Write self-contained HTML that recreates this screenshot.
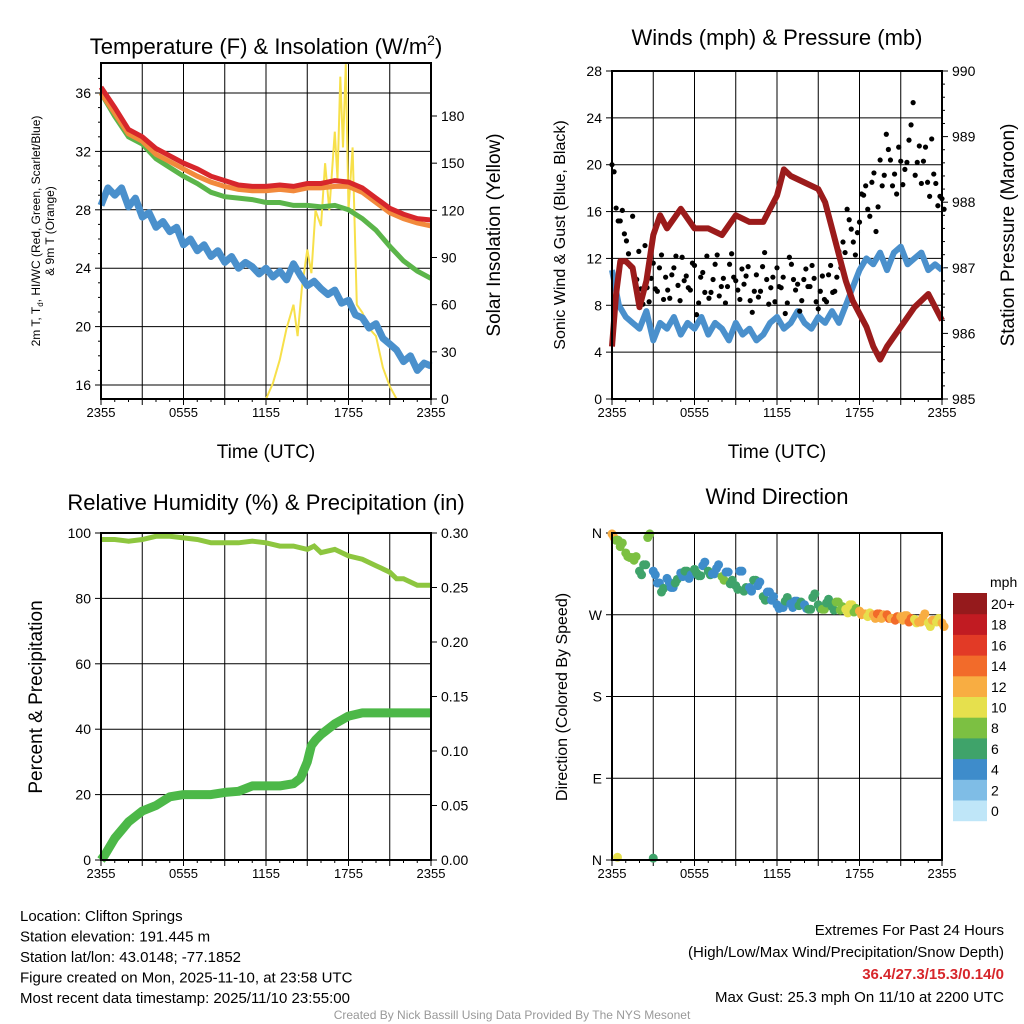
<!DOCTYPE html>
<html><head><meta charset="utf-8"><style>
html,body{margin:0;padding:0;background:#fff}
svg{display:block;font-family:"Liberation Sans",sans-serif}
</style></head><body>
<svg id="c" width="1024" height="1024" viewBox="0 0 1024 1024" xmlns="http://www.w3.org/2000/svg"></svg>
<script>
// ---------- DATA ----------
const xTickLabels=["2355","0555","1155","1755","2355"];
const hours=[0,1,2,3,4,5,6,7,8,9,10,11,12,13,14,15,16,17,18,19,20,21,22,23,24];
const tempRed=[36.4,35,33.5,33,32.2,31.7,31.2,30.8,30.3,30,29.7,29.6,29.6,29.7,29.6,29.8,29.8,30,29.9,29.5,28.8,28.1,27.7,27.4,27.3];
const tempOrange=[36,34.6,33.2,32.7,31.8,31.3,30.8,30.3,29.9,29.6,29.4,29.3,29.3,29.4,29.3,29.5,29.5,29.6,29.6,29.2,28.5,27.8,27.4,27.1,26.9];
const tempGreen=[36,34.4,33,32.5,31.5,30.9,30.3,29.8,29.2,28.9,28.8,28.7,28.5,28.5,28.3,28.3,28.2,28.3,28,27.4,26.6,25.5,24.5,23.8,23.3];
const dewHours=[0,0.5,1,1.5,2,2.5,3,3.5,4,4.5,5,5.5,6,6.5,7,7.5,8,8.5,9,9.5,10,10.5,11,11.5,12,12.5,13,13.5,14,14.5,15,15.5,16,16.5,17,17.5,18,18.5,19,19.5,20,20.5,21,21.5,22,22.5,23,23.5,24];
const dewBlue=[28.3,29.5,29,29.5,28.2,28.8,27.5,27.8,26.8,27.2,26.5,26.8,25.6,26,25.2,25.6,24.8,25.2,24.4,24.8,24,24.4,24.1,23.6,24,23.4,23.8,23.2,24.3,23.5,22.8,23.1,22.6,22.2,22.5,21.6,21.8,20.8,20.6,19.9,20.2,19.2,18.8,18.4,17.6,18,17,17.5,17.3];
const solarHours=[0,12,12.5,13,13.5,14,14.3,14.6,15,15.3,15.6,16,16.3,16.6,17,17.2,17.4,17.6,17.8,18,18.3,18.6,19,19.5,20,20.5,21,21.5,24];
const solarVals=[0,0,10,25,45,60,40,70,95,80,120,110,150,120,170,140,205,160,213,120,160,60,55,45,40,20,8,0,0];
const tTicks=[16,20,24,28,32,36];
const sTicks=[0,30,60,90,120,150,180];
const windHours=[0,0.5,1,1.5,2,2.5,3,3.5,4,4.5,5,5.5,6,6.5,7,7.5,8,8.5,9,9.5,10,10.5,11,11.5,12,12.5,13,13.5,14,14.5,15,15.5,16,16.5,17,17.5,18,18.5,19,19.5,20,20.5,21,21.5,22,22.5,23,23.5,24];
const windBlue=[11,8,7,6.5,6,7.5,5,6.5,6,7,5.5,6.5,6,7,5.5,6.5,6,5,6.5,5.5,6,5,5.5,6.5,7,6,6.5,7.5,6.5,6,7,6.5,7.5,6.5,8,9.5,11,12,11.5,12.5,11,12.5,13,11.5,12,12.5,11,11.5,11];
const presHours=[0,0.3,0.6,1,1.5,2,2.5,3,3.5,4,5,6,7,8,9,10,11,12,12.5,13,14,15,15.5,16,16.5,17,17.5,18,18.5,19,19.5,20,21,22,23,24];
const presVals=[985.8,986.6,987.1,987.1,987.0,986.4,986.8,987.5,987.8,987.6,987.9,987.6,987.6,987.5,987.8,987.7,987.7,988.1,988.5,988.4,988.3,988.2,988.0,987.6,987.2,986.8,986.5,986.3,986.1,985.8,985.6,985.8,986.1,986.4,986.6,986.2];
const gustHours=[0,0.3,0.6,0.9,1.2,1.5,1.8,2.1,2.4,2.7,3,3.3,3.6,3.9,4.2,4.5,4.8,5.1,5.4,5.7,6,6.3,6.6,6.9,7.2,7.5,7.8,8.1,8.4,8.7,9,9.3,9.6,9.9,10.2,10.5,10.8,11.1,11.4,11.7,12,12.3,12.6,12.9,13.2,13.5,13.8,14.1,14.4,14.7,15,15.3,15.6,15.9,16.2,16.5,16.8,17.1,17.4,17.7,18,18.3,18.6,18.9,19.2,19.5,19.8,20.1,20.4,20.7,21,21.3,21.6,21.9,22.2,22.5,22.8,23.1,23.4,23.7,24];
const gustVals=[20,16.3,15.2,14.1,12.4,15.6,10.2,9.4,13.1,8.3,11.6,9.2,12.3,10.4,8.6,11.2,9.7,12.1,10.5,9.3,11.4,8.2,10.8,12.2,9.1,11.5,8.8,10.3,9.6,12.4,10.1,8.5,9.8,11.3,7.4,10.6,9.2,12.5,8.1,10.4,11.2,9.5,7.3,12.1,10.2,9.8,8.4,11.1,9.6,10.3,7.7,10.5,8.3,11.4,9.2,12.6,13.4,16.2,14.5,12.3,15.1,17.4,16.2,18.5,14.3,20.4,19.1,21.3,18.2,17.5,20.3,19.6,22.1,25.3,20.2,18.4,21.5,17.3,19.2,16.5,17.1];
const gustVals2=[19.4,15.2,16.1,13.5,11.3,10.4,12.6,8.1,9.5,10.3,9.4,11.2,8.5,9.3,10.6,12.2,8.4,10.1,9.5,11.6,7.2,10.4,9.1,8.6,10.2,12.3,9.6,8.2,11.5,10.4,9.3,11.1,10.5,8.4,9.2,8.7,11.3,10.2,9.5,8.3,9.6,10.4,8.2,11.5,9.3,7.5,10.2,9.6,11.4,8.3,9.2,8.5,10.6,9.1,10.4,11.2,12.5,15.3,13.4,14.2,17.5,18.2,15.6,19.3,16.4,18.2,22.6,20.4,19.2,21.5,18.3,20.2,23.4,19.1,21.6,20.3,18.5,22.2,18.4,17.3,16.2];
const wTicks=[0,4,8,12,16,20,24,28];
const pTicks=[985,986,987,988,989,990];
const rhHours=[0,1,2,3,4,5,6,7,8,9,10,11,12,13,14,15,15.5,16,17,18,19,20,21,21.5,22,23,24];
const rhVals=[98,98,97.5,98,99,99,98.5,98,97,97,97,97.5,97,96,96,95,96,94,95,93,92,90,88,86,86,84,84];
const precipHours=[0,0.3,1,2,3,4,5,6,7,8,9,10,11,12,13,14,14.5,15,15.3,15.6,16,17,18,19,20,21,22,23,24];
const precipVals=[0,0.005,0.02,0.035,0.045,0.05,0.058,0.06,0.06,0.06,0.062,0.063,0.068,0.068,0.068,0.07,0.075,0.09,0.105,0.11,0.115,0.125,0.132,0.135,0.135,0.135,0.135,0.135,0.135];
const rhTicks=[0,20,40,60,80,100];
const prTicks=["0.00","0.05","0.10","0.15","0.20","0.25","0.30"];
const dirHours=[0,0.3,0.6,1,1.3,1.6,2,2.3,2.6,3,3.3,3.6,4,4.3,4.6,5,5.3,5.6,6,6.3,6.6,7,7.3,7.6,8,8.3,8.6,9,9.3,9.6,10,10.3,10.6,11,11.3,11.6,12,12.3,12.6,13,13.3,13.6,14,14.3,14.6,15,15.3,15.6,16,16.3,16.6,17,17.3,17.6,18,18.3,18.6,19,19.3,19.6,20,20.3,20.6,21,21.3,21.6,22,22.3,22.6,23,23.3,23.6,24,0.4,3.0];
const dirVals=[359,352,345,338,333,330,318,325,355,318,305,295,310,300,305,316,318,310,320,313,324,318,315,321,312,317,304,302,318,296,300,308,302,290,295,286,281,278,285,282,285,280,281,276,289,281,276,283,279,284,275,276,281,273,274,271,268,270,271,266,270,266,264,268,269,262,265,262,267,261,264,262,261,3,2];
const dirSpeed=[12,9,9,8,8,9,6,7,8,5,5,6,5,5,6,5,6,4,6,7,5,6,4,5,8,5,6,6,4,7,5,6,4,6,5,4,5,4,6,5,4,6,5,6,7,6,8,7,7,9,9,10,11,9,12,13,11,12,14,13,14,12,15,13,12,14,11,13,12,11,12,11,12,10,7];
const cbLabels=["0","2","4","6","8","10","12","14","16","18","20+"];
const cbColors=["#bfe6f8","#7fbde6","#3e8ccb","#3fa36a","#7cc042","#e6e04d","#f8ad42","#f26b2a","#e23a26","#c11b22","#951a1c"];
const dirTicks=["N","E","S","W","N"];

// ---------- HELPERS ----------
const svg=document.getElementById('c');
const NS="http://www.w3.org/2000/svg";
function mk(tag,attrs,parent){const e=document.createElementNS(NS,tag);for(const k in attrs)e.setAttribute(k,attrs[k]);(parent||svg).appendChild(e);return e;}
function txt(x,y,s,size,anchor,parent,extra){const t=mk('text',Object.assign({x:x,y:y,'font-size':size,'text-anchor':anchor||'middle',fill:'#000'},extra||{}),parent);t.textContent=s;return t;}
function lin(d0,d1,r0,r1){return v=>r0+(v-d0)*(r1-r0)/(d1-d0);}
function pathFrom(xs,ys,fx,fy){return xs.map((h,i)=>(i?'L':'M')+fx(h).toFixed(1)+','+fy(ys[i]).toFixed(1)).join(' ');}

function frame(g,L,T,R,B,fx){
  for(let i=0;i<=8;i++){const x=L+(R-L)*i/8;mk('line',{x1:x,y1:T,x2:x,y2:B,stroke:'#000','stroke-width':1},g);}
  for(let i=0;i<=24;i++){const x=L+(R-L)*i/24;mk('line',{x1:x,y1:B,x2:x,y2:B+(i%3==0?6:3),stroke:'#000','stroke-width':1},g);}
  xTickLabels.forEach((s,i)=>{const t=txt(L+(R-L)*i/4,B+18,s,13,'middle',g);});
}

// ---------- PANEL 1 ----------
(function(){
const g=mk('g',{});
const L=101,R=431,T=63,B=399;
const fx=lin(0,24,L,R),fy=lin(16,36,385,93),fs=lin(0,180,399,116);
tTicks.forEach(v=>{mk('line',{x1:L,y1:fy(v),x2:R,y2:fy(v),stroke:'#000','stroke-width':1},g);mk('line',{x1:L-6,y1:fy(v),x2:L,y2:fy(v),stroke:'#000'},g);const t=txt(L-10,fy(v)+5,String(v),14,'end',g);});
for(let v=17;v<38;v++){if(v%4)mk('line',{x1:L-3,y1:fy(v),x2:L,y2:fy(v),stroke:'#000'},g);}
sTicks.forEach(v=>{mk('line',{x1:R,y1:fs(v),x2:R+6,y2:fs(v),stroke:'#000'},g);const t=txt(R+10,fs(v)+5,String(v),14,'start',g);});
frame(g,L,T,R,B,fx);
const s=mk('path',{d:pathFrom(solarHours,solarVals,fx,fs),fill:'none',stroke:'#f7e04a','stroke-width':2},g);
const d=mk('path',{d:pathFrom(dewHours,dewBlue,fx,fy),fill:'none',stroke:'#4a90cc','stroke-width':7,'stroke-linejoin':'round'},g);
const gr=mk('path',{d:pathFrom(hours,tempGreen,fx,fy),fill:'none',stroke:'#5bb54a','stroke-width':5},g);
const o=mk('path',{d:pathFrom(hours,tempOrange,fx,fy),fill:'none',stroke:'#f28a3c','stroke-width':5},g);
const r=mk('path',{d:pathFrom(hours,tempRed,fx,fy),fill:'none',stroke:'#d7262b','stroke-width':5},g);
mk('rect',{x:L,y:T,width:R-L,height:B-T,fill:'none',stroke:'#000','stroke-width':2},g);
const t1=txt(266,54,'Temperature (F) & Insolation (W/m',22,'middle',g);const sp=mk('tspan',{'font-size':14,dy:-9},t1);sp.textContent='2';const sp2=mk('tspan',{dy:9},t1);sp2.textContent=')';

const yl=txt(0,0,'2m T, T',12,'middle',g,{transform:'translate(40,231) rotate(-90)'});const sub=mk('tspan',{'font-size':8,dy:3},yl);sub.textContent='d';const rest=mk('tspan',{dy:-3},yl);rest.textContent=', HI/WC (Red, Green, Scarlet/Blue)';

const yl2=txt(0,0,'& 9m T (Orange)',12,'middle',g,{transform:'translate(54,231) rotate(-90)'});
const yr=txt(0,0,'Solar Insolation (Yellow)',19,'middle',g,{transform:'translate(500,235) rotate(-90)'});
const xt=txt(266,458,'Time (UTC)',19,'middle',g);
})();

// ---------- PANEL 2 ----------
(function(){
const g=mk('g',{});
const L=612,R=942,T=71,B=399;
const fx=lin(0,24,L,R),fy=lin(0,28,399,71),fp=lin(985,990,399,71);
wTicks.forEach(v=>{mk('line',{x1:L,y1:fy(v),x2:R,y2:fy(v),stroke:'#000'},g);mk('line',{x1:L-6,y1:fy(v),x2:L,y2:fy(v),stroke:'#000'},g);const t=txt(L-10,fy(v)+5,String(v),14,'end',g);});
pTicks.forEach(v=>{mk('line',{x1:R,y1:fp(v),x2:R+6,y2:fp(v),stroke:'#000'},g);const t=txt(R+10,fp(v)+5,String(v),14,'start',g);});
for(let v=985.2;v<990;v+=0.2){if(Math.abs(v-Math.round(v))>0.05)mk('line',{x1:R,y1:fp(v),x2:R+3,y2:fp(v),stroke:'#000'},g);}
frame(g,L,T,R,B,fx);
const b=mk('path',{d:pathFrom(windHours,windBlue,fx,fy),fill:'none',stroke:'#4a90cc','stroke-width':6,'stroke-linejoin':'round'},g);
[gustVals,gustVals2].forEach((arr,k)=>arr.forEach((v,i)=>{const c=mk('circle',{cx:fx(gustHours[i]+k*0.15),cy:fy(v),r:2.6,fill:'#000'},g);}));
const p=mk('path',{d:pathFrom(presHours,presVals,fx,fp),fill:'none',stroke:'#9b1b1b','stroke-width':6,'stroke-linejoin':'round'},g);
mk('rect',{x:L,y:T,width:R-L,height:B-T,fill:'none',stroke:'#000','stroke-width':2},g);
const t=txt(777,45,'Winds (mph) & Pressure (mb)',22,'middle',g);
const yl=txt(0,0,'Sonic Wind & Gust (Blue, Black)',16,'middle',g,{transform:'translate(565,235) rotate(-90)'});
const yr=txt(0,0,'Station Pressure (Maroon)',19,'middle',g,{transform:'translate(1014,235) rotate(-90)'});
const xt=txt(777,458,'Time (UTC)',19,'middle',g);
})();

// ---------- PANEL 3 ----------
(function(){
const g=mk('g',{});
const L=101,R=431,T=533,B=860;
const fx=lin(0,24,L,R),fy=lin(0,100,860,533),fp=lin(0,0.3,860,533);
rhTicks.forEach(v=>{mk('line',{x1:L,y1:fy(v),x2:R,y2:fy(v),stroke:'#000'},g);mk('line',{x1:L-6,y1:fy(v),x2:L,y2:fy(v),stroke:'#000'},g);const t=txt(L-10,fy(v)+5,String(v),14,'end',g);});
prTicks.forEach(s=>{const v=parseFloat(s);mk('line',{x1:R,y1:fp(v),x2:R+6,y2:fp(v),stroke:'#000'},g);const t=txt(R+10,fp(v)+5,s,14,'start',g);});
frame(g,L,T,R,B,fx);
const rh=mk('path',{d:pathFrom(rhHours,rhVals,fx,fy),fill:'none',stroke:'#8dc63f','stroke-width':5},g);
const pr=mk('path',{d:pathFrom(precipHours,precipVals,fx,fp),fill:'none',stroke:'#4cb848','stroke-width':9,'stroke-linejoin':'round'},g);
mk('rect',{x:L,y:T,width:R-L,height:B-T,fill:'none',stroke:'#000','stroke-width':2},g);
const t=txt(266,510,'Relative Humidity (%) & Precipitation (in)',22,'middle',g);
const yl=txt(0,0,'Percent & Precipitation',19,'middle',g,{transform:'translate(42,697) rotate(-90)'});
})();

// ---------- PANEL 4 ----------
(function(){
const g=mk('g',{});
const L=612,R=942,T=533,B=860;
const fx=lin(0,24,L,R),fy=lin(0,360,860,533);
dirTicks.forEach((s,i)=>{const y=fy(i*90);mk('line',{x1:L,y1:y,x2:R,y2:y,stroke:'#000'},g);mk('line',{x1:L-6,y1:y,x2:L,y2:y,stroke:'#000'},g);const t=txt(L-10,y+5,s,14,'end',g);});
frame(g,L,T,R,B,fx);
dirVals.forEach((v,i)=>{const sp=dirSpeed[i];const ci=Math.min(10,Math.max(0,Math.floor(sp/2)));
 const c=mk('circle',{cx:fx(dirHours[i]),cy:fy(v),r:4.5,fill:cbColors[ci]},g);
 if(i<dirVals.length-2){const c2=mk('circle',{cx:fx(dirHours[i]+0.15),cy:fy(v+((i%3)-1)*4),r:4.5,fill:cbColors[ci]},g);}});
mk('rect',{x:L,y:T,width:R-L,height:B-T,fill:'none',stroke:'#000','stroke-width':2},g);
const t=txt(777,504,'Wind Direction',22,'middle',g);
const yl=txt(0,0,'Direction (Colored By Speed)',16,'middle',g,{transform:'translate(567,697) rotate(-90)'});
const cb=mk('g',{},g);
const h=20.7,top=593;
cbColors.forEach((c,i)=>{mk('rect',{x:953,y:top+(10-i)*h,width:34,height:h+0.5,fill:c},cb);const l=txt(991,top+(10-i)*h+16,cbLabels[i],14,'start',cb);});
const mt=txt(990,587,'mph',14,'start',cb);
})();

// ---------- FOOTER ----------
(function(){
const g=mk('g',{});
const lines=["Location: Clifton Springs","Station elevation: 191.445 m","Station lat/lon: 43.0148; -77.1852","Figure created on Mon, 2025-11-10, at 23:58 UTC","Most recent data timestamp: 2025/11/10 23:55:00"];
lines.forEach((s,i)=>{const t=txt(20,921+i*20.5,s,15,'start',g);});
const r1=txt(1004,935,'Extremes For Past 24 Hours',15,'end',g);
const r2=txt(1004,957,'(High/Low/Max Wind/Precipitation/Snow Depth)',15,'end',g);
const r3=txt(1004,979,'36.4/27.3/15.3/0.14/0',15,'end',g,{fill:'#d7262b','font-weight':'bold'});
const r4=txt(1004,1002,'Max Gust: 25.3 mph On 11/10 at 2200 UTC',15,'end',g);
const cr=txt(512,1019,'Created By Nick Bassill Using Data Provided By The NYS Mesonet',12,'middle',g,{fill:'#999'});
})();
</script>
</body></html>
